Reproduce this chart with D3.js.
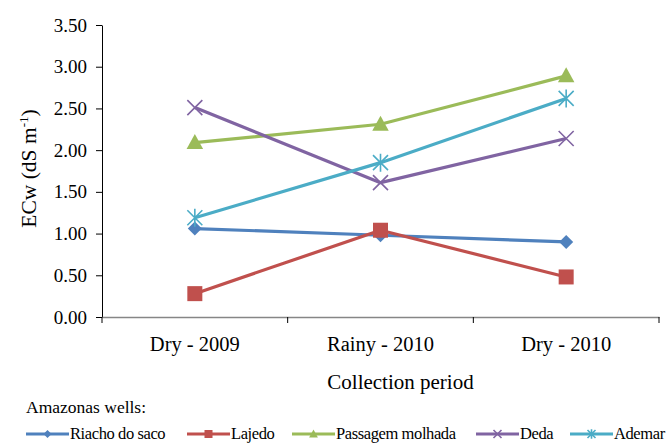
<!DOCTYPE html>
<html>
<head>
<meta charset="utf-8">
<script src="https://cdn.jsdelivr.net/npm/d3@7"></script>
<style>
  body { margin: 0; background: #fff; }
</style>
</head>
<body>
<svg id="chart" width="672" height="444" font-family="'Liberation Serif', 'DejaVu Serif', serif"></svg>
<script>
const periods = ["Dry - 2009", "Rainy - 2010", "Dry - 2010"];
const yTicks = [0, 0.5, 1, 1.5, 2, 2.5, 3, 3.5];

const riacho = [1.06, 0.98, 0.90];
const lajedo = [0.28, 1.04, 0.48];
const passagem = [2.09, 2.31, 2.89];
const deda = [2.51, 1.61, 2.14];
const ademar = [1.19, 1.85, 2.62];

const series = [
  { name: "Riacho do saco", values: riacho, color: "#4F81BD", marker: "diamond" },
  { name: "Lajedo", values: lajedo, color: "#C0504D", marker: "square" },
  { name: "Passagem molhada", values: passagem, color: "#9BBB59", marker: "triangle" },
  { name: "Deda", values: deda, color: "#8064A2", marker: "cross" },
  { name: "Ademar", values: ademar, color: "#4BACC6", marker: "star" },
];

const serif = "Liberation Serif";
const margin = { left: 102, right: 13, top: 25, bottom: 127 };
const width = 672, height = 444;

const svg = d3.select("#chart");

const x = d3.scaleBand()
  .domain(periods)
  .range([margin.left, width - margin.right]);

const y = d3.scaleLinear()
  .domain([0, 3.5])
  .range([height - margin.bottom, margin.top]);

// y axis
const yAxis = svg.append("g")
  .attr("transform", `translate(${margin.left},0)`)
  .call(d3.axisLeft(y).tickValues(yTicks).tickFormat(d3.format(".2f")).tickSize(6).tickSizeOuter(0))
  .attr("font-family", serif)
  .attr("font-size", 19);
yAxis.select(".domain").attr("stroke", "#000");
yAxis.selectAll(".tick line").attr("stroke", "#000");
yAxis.selectAll(".tick text").attr("x", -15);

// x axis
const xAxis = svg.append("g")
  .attr("transform", `translate(0,${y(0)})`)
  .call(d3.axisBottom(x).tickSize(0).tickSizeOuter(0))
  .attr("font-family", serif)
  .attr("font-size", 20.5);
xAxis.select(".domain").attr("stroke", "#868686").attr("stroke-width", 1.3);
xAxis.selectAll(".tick text")
  .attr("dy", "1.1em")
  .attr("y", 11);

// category boundary ticks
const bounds = periods.map(p => x(p)).concat([x(periods[2]) + x.bandwidth()]);
svg.append("g").selectAll("line")
  .data(bounds)
  .join("line")
  .attr("x1", d => d).attr("x2", d => d)
  .attr("y1", y(0)).attr("y2", y(0) + 6)
  .attr("stroke", "#000");

// axis titles
const ylab = svg.append("text")
  .attr("transform", `translate(36,${y(1.78)}) rotate(-90)`)
  .attr("text-anchor", "middle")
  .attr("font-family", serif)
  .attr("font-size", 21.5);
ylab.append("tspan").text("ECw (dS m");
ylab.append("tspan").attr("dy", -8).attr("font-size", 13).text("-1");
ylab.append("tspan").attr("dy", 8).text(")");

svg.append("text")
  .attr("x", (margin.left + width - margin.right) / 2 + 20)
  .attr("y", 389)
  .attr("text-anchor", "middle")
  .attr("font-family", serif)
  .attr("font-size", 21)
  .text("Collection period");

// markers
function drawMarker(g, type, color, size) {
  const s = size;
  if (type === "diamond") {
    g.append("path").attr("d", `M0,${-s}L${s},0L0,${s}L${-s},0Z`).attr("fill", color);
  } else if (type === "square") {
    g.append("rect").attr("x", -s).attr("y", -s).attr("width", 2 * s).attr("height", 2 * s).attr("fill", color);
  } else if (type === "triangle") {
    g.append("path").attr("d", `M0,${-s * 1.15}L${s * 1.1},${s * 0.85}L${-s * 1.1},${s * 0.85}Z`).attr("fill", color);
  } else if (type === "cross") {
    g.append("path").attr("d", `M${-s},${-s}L${s},${s}M${-s},${s}L${s},${-s}`)
      .attr("stroke", color).attr("stroke-width", 1.6).attr("fill", "none");
  } else if (type === "star") {
    g.append("path").attr("d", `M${-s},${-s}L${s},${s}M${-s},${s}L${s},${-s}M0,${-s * 1.2}L0,${s * 1.2}`)
      .attr("stroke", color).attr("stroke-width", 1.6).attr("fill", "none");
  }
}

const line = d3.line()
  .x((d, i) => x(periods[i]) + x.bandwidth() / 2)
  .y(d => y(d));

series.forEach(s => {
  const g = svg.append("g");
  g.append("path")
    .datum(s.values)
    .attr("d", line)
    .attr("fill", "none")
    .attr("stroke", s.color)
    .attr("stroke-width", 3.2)
    .attr("stroke-linejoin", "round");
  s.values.forEach((v, i) => {
    const m = g.append("g")
      .attr("transform", `translate(${x(periods[i]) + x.bandwidth() / 2},${y(v)})`);
    drawMarker(m, s.marker, s.color, s.marker === "diamond" ? 7 : 7.5);
  });
});

// legend
svg.append("text")
  .attr("x", 26)
  .attr("y", 413)
  .attr("font-family", serif)
  .attr("font-size", 17.5)
  .text("Amazonas wells:");

const legendX = [26, 187, 292, 476, 570];
const legend = svg.append("g").attr("font-family", serif).attr("font-size", 16.5);
series.forEach((s, i) => {
  const g = legend.append("g").attr("transform", `translate(${legendX[i]},434)`);
  g.append("line").attr("x1", 0).attr("x2", 43).attr("y1", 0).attr("y2", 0)
    .attr("stroke", s.color).attr("stroke-width", 3.2);
  const m = g.append("g").attr("transform", "translate(21.5,0)");
  drawMarker(m, s.marker, s.color, 4);
  g.append("text")
    .attr("x", 44)
    .attr("y", 5)
    .attr("letter-spacing", -0.4)
    .text(s.name);
});
</script>
</body>
</html>
